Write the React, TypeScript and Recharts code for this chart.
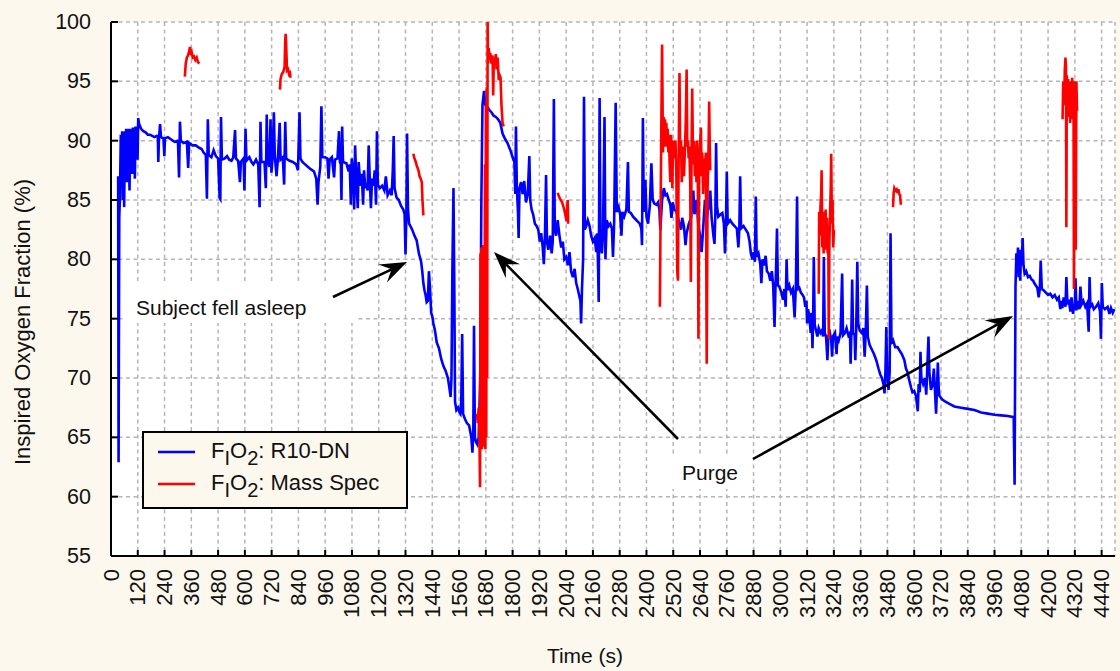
import { CartesianGrid, Line, LineChart, XAxis, YAxis } from "recharts";

// F_IO2 from the R10-DN sensor, [time (s), %]
const blueSettling: [number, number][] = [
  [32, 87.0], [34, 62.9], [37, 83.5], [40, 85.2], [44, 90.5], [47, 86.0], [50, 90.8], [53, 85.0],
  [56, 90.6], [59, 84.4], [62, 90.8], [65, 87.0], [68, 91.0], [71, 86.5], [74, 90.9], [77, 88.0],
  [80, 91.0], [83, 85.8], [86, 90.9], [89, 87.5], [92, 91.0], [95, 87.2], [98, 91.1], [101, 88.0],
  [104, 91.1], [107, 86.8], [110, 91.2], [113, 88.5], [116, 91.2], [119, 88.4], [122, 91.9], [126, 91.4],
];

const blueAwake: [number, number][] = [
  [135, 91.0], [145, 90.8], [155, 90.7], [165, 90.5], [175, 90.5], [185, 90.4], [195, 90.3], [205, 90.4],
  [210, 90.3], [212, 88.2], [215, 90.2], [220, 91.4], [224, 90.3], [235, 90.2], [239, 88.7], [242, 90.2],
  [255, 90.3], [270, 90.1], [285, 89.9], [300, 90.0], [305, 86.9], [309, 91.6], [313, 90.0], [325, 89.8],
  [340, 89.9], [346, 87.7], [350, 89.8], [365, 89.6], [380, 89.6], [395, 89.4], [406, 89.3], [415, 89.0],
  [425, 88.8], [430, 85.1], [434, 91.8], [438, 88.8], [450, 88.6], [460, 89.2], [470, 88.7], [480, 88.5],
  [487, 85.2], [490, 85.1], [493, 92.0], [497, 88.4], [510, 88.5], [520, 88.7], [530, 88.4], [540, 88.3],
  [548, 88.6], [556, 90.9], [560, 88.5], [570, 88.3], [578, 86.5], [582, 88.2], [594, 88.5], [598, 85.8],
  [603, 91.0], [607, 88.3], [620, 88.6], [630, 88.2], [638, 88.0], [650, 88.4], [660, 88.0], [666, 84.4],
  [670, 91.6], [674, 88.2], [688, 88.2], [694, 86.0], [698, 92.2], [702, 88.3], [710, 87.8], [715, 91.8],
  [719, 87.3], [724, 88.5], [730, 92.4], [734, 88.8], [742, 87.0], [748, 88.5], [756, 91.5], [760, 88.4],
  [770, 88.6], [776, 86.3], [781, 91.6], [785, 88.5], [800, 88.3], [815, 88.2], [830, 88.0], [838, 87.5],
  [845, 92.4], [849, 88.5], [858, 88.2], [870, 88.0], [882, 87.8], [895, 87.6], [910, 87.4], [920, 86.8],
  [926, 84.6], [930, 86.5], [938, 87.8], [943, 92.9], [947, 88.6], [960, 88.6], [970, 88.5], [975, 86.8],
  [980, 88.4], [990, 88.6], [1000, 86.9], [1004, 88.4], [1015, 88.5], [1022, 90.8], [1026, 88.2], [1030, 88.0],
  [1033, 85.0], [1036, 91.2], [1040, 88.2], [1055, 88.1], [1065, 87.4], [1070, 88.0], [1075, 84.6], [1079, 88.5],
  [1085, 87.2], [1090, 84.2], [1094, 89.6], [1100, 86.5], [1106, 84.3], [1110, 88.2], [1118, 86.2], [1124, 87.2],
  [1130, 84.6], [1134, 87.5], [1140, 86.0], [1146, 86.4], [1150, 85.8], [1155, 89.6], [1160, 86.6], [1165, 84.3],
  [1170, 86.8], [1176, 86.2], [1182, 87.5], [1188, 84.6], [1192, 90.8], [1196, 86.3], [1205, 86.0], [1215, 86.2],
  [1225, 85.8], [1232, 87.0], [1240, 85.4], [1250, 85.8], [1258, 85.4], [1263, 87.5], [1267, 90.4], [1271, 86.0],
  [1280, 85.2], [1290, 85.0], [1300, 84.5], [1310, 84.2], [1316, 83.8],
];

const blueAsleep: [number, number][] = [
  [1320, 80.4], [1324, 84.0], [1327, 90.6], [1331, 84.3], [1336, 83.0], [1342, 82.8], [1350, 82.5], [1360, 82.0],
  [1370, 81.6], [1380, 80.5], [1390, 79.8], [1395, 79.0], [1400, 78.0], [1405, 77.4], [1410, 77.0], [1415, 76.4],
  [1420, 76.5], [1425, 79.0], [1430, 77.5], [1435, 75.5], [1440, 75.2], [1445, 74.6], [1452, 74.0], [1460, 73.0],
  [1470, 72.5], [1480, 71.6], [1490, 71.0], [1500, 70.6], [1510, 70.0], [1518, 69.0], [1522, 68.4], [1526, 70.0],
  [1530, 79.0], [1535, 86.0], [1539, 77.0], [1542, 68.0], [1548, 67.3], [1555, 67.5], [1560, 67.2], [1566, 67.0],
  [1570, 68.2], [1574, 73.7], [1578, 67.0], [1585, 66.6], [1595, 66.2], [1605, 66.0], [1610, 65.5], [1615, 65.0],
  [1620, 63.7], [1624, 65.8], [1627, 74.4], [1631, 65.0], [1636, 64.6], [1642, 64.4], [1648, 65.0], [1655, 70.0],
  [1660, 85.0],
];

const bluePostPurge: [number, number][] = [
  [1665, 93.0], [1672, 94.2], [1678, 93.0], [1685, 92.9], [1695, 92.6], [1705, 92.4], [1715, 92.1], [1725, 92.0],
  [1735, 91.8], [1745, 91.5], [1755, 90.6], [1765, 90.2], [1777, 89.8], [1790, 89.2], [1800, 88.6], [1808, 88.2],
  [1812, 85.5], [1815, 91.2], [1819, 86.1], [1824, 84.0], [1827, 81.8], [1831, 86.0], [1838, 86.5], [1845, 85.5],
  [1852, 86.6], [1860, 84.8], [1868, 85.5], [1875, 88.7], [1879, 85.0], [1885, 84.2], [1892, 83.8], [1900, 83.0],
  [1908, 82.8], [1915, 82.5], [1922, 81.5], [1928, 82.2], [1935, 81.0], [1940, 79.6], [1945, 82.0], [1950, 87.1],
  [1954, 81.5], [1960, 80.8], [1968, 82.0], [1975, 80.5], [1980, 81.5], [1985, 93.5], [1989, 82.5], [1995, 82.0],
  [2002, 83.3], [2010, 82.0], [2018, 81.0], [2025, 81.5], [2032, 80.0], [2040, 80.2], [2048, 79.5], [2055, 80.6],
  [2062, 79.0], [2070, 78.5], [2078, 79.2], [2085, 78.0], [2092, 77.5], [2098, 77.0], [2104, 76.5], [2107, 74.6],
  [2111, 77.5], [2116, 80.0], [2120, 93.7], [2124, 82.5], [2130, 82.8], [2137, 83.3], [2145, 82.8], [2152, 82.0],
  [2160, 81.5], [2168, 81.8], [2175, 80.6], [2180, 82.2], [2186, 76.4], [2190, 93.6], [2194, 81.5], [2200, 80.5],
  [2205, 82.0], [2212, 92.0], [2216, 80.0], [2222, 83.3], [2230, 82.8], [2238, 83.0], [2245, 82.6], [2250, 80.2],
  [2255, 83.0], [2262, 93.2], [2267, 84.0], [2275, 84.4], [2282, 83.8], [2288, 82.0], [2292, 84.0], [2300, 83.6],
  [2310, 84.2], [2317, 88.2], [2321, 84.0], [2330, 83.9], [2340, 83.6], [2350, 83.4], [2360, 83.2], [2370, 83.0],
  [2377, 82.6], [2380, 81.2], [2384, 91.9], [2388, 84.0], [2395, 86.7], [2400, 83.6], [2407, 83.0], [2415, 84.5],
  [2422, 88.1], [2428, 85.0], [2435, 84.7], [2445, 84.6], [2452, 84.8],
];

const blueDecline: [number, number][] = [
  [2458, 84.2], [2462, 82.5], [2470, 85.0], [2478, 86.0], [2485, 85.4], [2492, 85.5], [2500, 85.0], [2507, 84.6],
  [2512, 83.5], [2518, 84.8], [2525, 84.2], [2535, 84.0], [2545, 83.2], [2555, 82.5], [2560, 83.5], [2568, 82.8],
  [2575, 81.2], [2580, 82.2], [2590, 83.0], [2600, 83.5], [2610, 85.8], [2615, 83.8], [2625, 85.0], [2632, 83.0],
  [2640, 82.0], [2647, 80.6], [2652, 82.0], [2662, 85.0], [2670, 83.5], [2680, 84.5], [2686, 85.8], [2692, 83.5],
  [2700, 82.0], [2705, 81.3], [2709, 84.0], [2712, 89.8], [2716, 84.5], [2722, 83.6], [2732, 83.8], [2740, 83.9],
  [2747, 83.0], [2752, 80.5], [2756, 82.8], [2760, 87.4], [2764, 83.0], [2775, 83.3], [2785, 83.0], [2795, 82.8],
  [2805, 82.6], [2812, 81.0], [2816, 82.5], [2820, 87.0], [2824, 82.6], [2835, 82.8], [2845, 82.5], [2855, 82.2],
  [2862, 81.5], [2868, 80.5], [2875, 80.0], [2880, 80.6], [2886, 79.8], [2890, 85.3], [2894, 80.2], [2902, 80.5],
  [2910, 79.6], [2915, 78.0], [2920, 80.0], [2928, 79.5], [2934, 80.3], [2940, 79.0], [2948, 78.8], [2955, 78.2],
  [2962, 79.0], [2968, 77.8], [2974, 74.3], [2978, 77.5], [2982, 80.0], [2985, 82.6], [2989, 77.8], [2995, 77.7],
  [3005, 77.2], [3012, 76.6], [3018, 77.5], [3024, 76.0], [3028, 80.0], [3032, 77.4], [3040, 77.8], [3048, 77.2],
  [3056, 77.5], [3064, 75.1], [3070, 78.0], [3075, 85.3], [3079, 77.5], [3085, 77.6], [3092, 77.2], [3100, 77.0],
  [3106, 76.8], [3112, 76.0], [3117, 76.5], [3120, 74.6], [3124, 75.8], [3130, 75.2], [3136, 73.8], [3140, 75.5],
  [3144, 72.5], [3147, 75.0], [3150, 80.2], [3154, 74.5], [3160, 74.0], [3166, 73.5], [3172, 74.2], [3180, 73.8],
  [3186, 74.0], [3192, 73.5], [3195, 80.2], [3199, 73.8], [3205, 73.5], [3211, 71.5], [3215, 73.5], [3222, 73.8],
  [3228, 73.2], [3232, 71.8], [3236, 73.5], [3245, 73.8], [3252, 72.0], [3256, 73.5], [3262, 73.2], [3270, 73.8],
  [3277, 78.8], [3281, 73.6], [3290, 73.8], [3297, 74.2], [3305, 73.6], [3312, 73.8], [3315, 71.2], [3318, 73.5],
  [3322, 78.3], [3326, 73.8], [3333, 73.6], [3336, 71.5], [3340, 74.0], [3345, 79.8], [3349, 74.6],
];

const blueDrift: [number, number][] = [
  [3356, 74.0], [3365, 73.8], [3372, 74.2], [3378, 71.8], [3383, 74.0], [3388, 77.8], [3392, 73.5], [3400, 72.8],
  [3410, 72.4], [3420, 72.0], [3430, 71.5], [3440, 70.8], [3448, 70.3], [3455, 70.0], [3462, 69.5], [3467, 68.7],
  [3471, 70.5], [3475, 74.3], [3479, 70.2], [3485, 69.0], [3490, 70.5], [3494, 82.2], [3498, 73.0], [3505, 73.2],
  [3515, 72.6], [3525, 72.6], [3535, 72.3], [3545, 72.0], [3556, 71.5], [3563, 70.8], [3570, 70.5], [3578, 69.8],
  [3586, 69.2], [3592, 68.8], [3600, 68.9], [3608, 68.5], [3616, 67.2], [3620, 69.5], [3625, 68.8], [3628, 72.2],
  [3632, 70.0], [3640, 69.5], [3648, 70.0], [3654, 68.6], [3658, 70.5], [3664, 73.5], [3668, 70.5], [3675, 69.0],
  [3683, 69.5], [3688, 70.8], [3693, 69.0], [3698, 67.0], [3702, 69.0], [3706, 71.3], [3710, 69.0], [3713, 68.5],
  [3725, 68.2], [3740, 68.0], [3760, 67.8], [3780, 67.6], [3810, 67.5], [3840, 67.4], [3870, 67.3], [3900, 67.1],
  [3930, 67.0], [3960, 66.9], [3990, 66.85], [4020, 66.8], [4046, 66.7],
];

const blueFinal: [number, number][] = [
  [4050, 61.0], [4054, 77.7], [4058, 80.5], [4062, 79.0], [4065, 81.0], [4068, 78.5], [4072, 80.8], [4075, 78.2],
  [4078, 80.2], [4082, 79.5], [4086, 81.8], [4090, 79.5], [4095, 78.8], [4102, 79.0], [4110, 78.5], [4118, 78.6],
  [4126, 78.3], [4133, 78.2], [4138, 78.0], [4145, 77.8], [4152, 77.6], [4158, 76.8], [4163, 77.5], [4167, 79.9],
  [4172, 77.5], [4180, 77.4], [4190, 77.2], [4200, 77.0], [4210, 77.1], [4220, 76.8], [4230, 77.0], [4240, 76.6],
  [4248, 76.8], [4255, 75.8], [4260, 76.5], [4264, 75.9], [4270, 76.8], [4278, 76.0], [4282, 78.5], [4287, 76.2],
  [4293, 76.6], [4300, 75.6], [4305, 76.8], [4312, 75.4], [4316, 76.0], [4320, 76.2], [4323, 78.4], [4327, 75.7],
  [4333, 76.5], [4340, 75.8], [4345, 77.7], [4350, 76.2], [4358, 76.5], [4367, 76.0], [4375, 76.3], [4382, 73.9],
  [4386, 78.5], [4390, 76.0], [4398, 76.2], [4405, 75.8], [4415, 76.0], [4425, 76.3], [4433, 75.6], [4437, 73.3],
  [4441, 78.0], [4445, 76.0], [4455, 75.8], [4467, 76.0], [4475, 75.4], [4482, 75.9], [4490, 75.5], [4497, 75.8],
];

// F_IO2 from the mass spectrometer, only sampled in bursts
const redSeg1: [number, number][] = [
  [331, 95.4], [335, 96.5], [340, 97.0], [345, 97.2], [350, 97.5], [354, 97.9], [358, 97.2], [362, 97.4],
  [366, 97.0], [372, 97.1], [378, 96.8], [384, 97.0], [390, 96.6], [396, 96.5],
];
const redSeg2: [number, number][] = [
  [757, 94.3], [760, 95.2], [765, 95.6], [772, 95.8], [778, 96.2], [781, 98.5], [783, 99.0], [786, 97.5],
  [789, 95.9], [794, 96.0], [798, 95.6], [802, 95.7], [805, 95.3],
];
const redSeg3: [number, number][] = [
  [1355, 88.9], [1360, 88.5], [1366, 88.2], [1372, 87.8], [1378, 87.5], [1383, 87.0], [1388, 86.8], [1393, 86.5],
  [1396, 85.0], [1400, 83.7],
];
const redSeg4: [number, number][] = [
  [1640, 67.0], [1644, 66.2], [1648, 67.5], [1651, 65.5], [1654, 60.8], [1656, 80.5], [1658, 64.5], [1660, 81.0],
  [1662, 64.0], [1664, 81.0], [1666, 64.5], [1668, 81.2], [1670, 64.2], [1672, 81.0], [1674, 64.5], [1676, 88.0],
  [1678, 64.0], [1680, 93.0], [1682, 65.0], [1684, 94.5], [1686, 70.0], [1688, 100.0], [1690, 96.5], [1693, 97.8],
  [1697, 96.8], [1700, 97.4], [1705, 96.5], [1710, 97.2], [1713, 93.8], [1716, 97.0], [1720, 96.5], [1725, 97.3],
  [1728, 96.0], [1733, 97.0], [1738, 95.1], [1742, 95.5], [1746, 95.3], [1750, 93.0], [1755, 91.5], [1760, 91.2],
];
const redSeg5: [number, number][] = [
  [2002, 85.6], [2008, 85.3], [2015, 85.0], [2022, 84.8], [2030, 84.3], [2036, 83.8], [2042, 83.2], [2045, 84.5],
  [2047, 85.0], [2049, 83.0],
];
const redSeg6: [number, number][] = [
  [2460, 76.0], [2466, 90.0], [2470, 98.1], [2474, 89.0], [2477, 92.0], [2480, 90.5], [2483, 91.8], [2486, 89.5],
  [2489, 91.5], [2492, 90.0], [2495, 91.0], [2498, 89.0], [2501, 90.5], [2504, 88.0], [2507, 86.5], [2510, 90.5],
  [2513, 89.5], [2516, 86.0], [2519, 90.0], [2522, 89.5], [2526, 88.5], [2530, 90.0], [2534, 87.0], [2538, 79.0],
  [2541, 78.2], [2544, 88.0], [2548, 95.7], [2551, 89.0], [2555, 90.0], [2558, 86.5], [2561, 88.0], [2565, 89.5],
  [2568, 87.0], [2572, 89.0], [2576, 91.5], [2580, 96.0], [2583, 89.5], [2586, 90.0], [2589, 88.5], [2592, 89.5],
  [2596, 86.5], [2599, 78.1], [2602, 89.0], [2605, 94.4], [2608, 89.5], [2611, 88.0], [2614, 90.0], [2617, 87.0],
  [2620, 89.5], [2624, 86.5], [2627, 90.0], [2630, 88.0], [2633, 73.3], [2636, 87.5], [2640, 89.5], [2644, 91.1],
  [2647, 87.0], [2650, 89.0], [2654, 85.5], [2658, 88.5], [2662, 87.5], [2666, 89.0], [2670, 71.2], [2674, 86.0],
  [2678, 89.0], [2681, 93.3], [2684, 89.0], [2686, 87.5],
];
const redSeg7: [number, number][] = [
  [3172, 77.1], [3174, 84.0], [3177, 82.0], [3180, 84.5], [3183, 85.5], [3185, 87.5], [3188, 81.0], [3191, 84.0],
  [3194, 80.5], [3197, 83.8], [3200, 81.0], [3203, 84.2], [3206, 80.8], [3209, 83.5], [3212, 80.5], [3215, 82.0],
  [3217, 73.3], [3220, 81.5], [3223, 84.0], [3226, 86.0], [3228, 88.9], [3231, 83.0], [3234, 85.0], [3237, 81.0],
  [3240, 82.5],
];
const redSeg8: [number, number][] = [
  [3505, 84.4], [3508, 85.6], [3511, 86.0], [3516, 85.8], [3521, 85.9], [3525, 85.6], [3529, 85.9], [3533, 85.5],
  [3537, 85.4], [3540, 84.6],
];
const redSeg9: [number, number][] = [
  [4265, 91.8], [4268, 95.0], [4272, 93.0], [4275, 96.0], [4278, 97.0], [4280, 96.2], [4282, 82.7], [4284, 95.5],
  [4287, 93.5], [4290, 95.2], [4293, 92.0], [4296, 95.0], [4299, 91.5], [4302, 95.0], [4305, 93.0], [4308, 95.3],
  [4311, 91.8], [4314, 95.0], [4316, 77.5], [4318, 93.0], [4321, 95.0], [4324, 80.8], [4327, 95.0], [4330, 92.5],
];

const xTicks = Array.from({ length: 38 }, (_, i) => i * 120);
const yTicks = [55, 60, 65, 70, 75, 80, 85, 90, 95, 100];

const FONT = '"Liberation Sans", Arial, Helvetica, sans-serif';
const BLUE = "#0000ff";
const RED = "#ff0000";

const toPoints = (pairs: [number, number][]) => pairs.map(([t, v]) => ({ t, v }));

const bluePoints = toPoints([
  ...blueSettling,
  ...blueAwake,
  ...blueAsleep,
  ...bluePostPurge,
  ...blueDecline,
  ...blueDrift,
  ...blueFinal,
]);
const redSegments = [redSeg1, redSeg2, redSeg3, redSeg4, redSeg5, redSeg6, redSeg7, redSeg8, redSeg9].map(toPoints);

const BottomTick = ({ x, y, payload }: any) => (
  <g>
    <line x1={x} y1={y} x2={x} y2={y - 6} stroke="#000" strokeWidth={2} />
    <text
      x={x}
      y={y + 13}
      transform={`rotate(-90 ${x} ${y + 13})`}
      textAnchor="end"
      dominantBaseline="central"
      fontFamily={FONT}
      fontSize={22}
      fill="#111"
    >
      {payload.value}
    </text>
  </g>
);

const TopTick = ({ x, y }: any) => <line x1={x} y1={y} x2={x} y2={y + 6} stroke="#000" strokeWidth={2} />;

const LeftTick = ({ x, y, payload }: any) => (
  <g>
    <line x1={x} y1={y} x2={x + 7} y2={y} stroke="#000" strokeWidth={2} />
    <text x={x - 20} y={y} textAnchor="end" dominantBaseline="central" fontFamily={FONT} fontSize={21.5} fill="#111">
      {payload.value}
    </text>
  </g>
);

const RightTick = ({ x, y }: any) => <line x1={x} y1={y} x2={x - 7} y2={y} stroke="#000" strokeWidth={2} />;

function Arrow({ x1, y1, x2, y2 }: { x1: number; y1: number; x2: number; y2: number }) {
  const len = Math.hypot(x2 - x1, y2 - y1);
  const ux = (x2 - x1) / len;
  const uy = (y2 - y1) / len;
  const L = 27;
  const W = 10;
  const N = 17;
  const bx = x2 - ux * L;
  const by = y2 - uy * L;
  const pts = [
    [x2, y2],
    [bx - uy * W, by + ux * W],
    [x2 - ux * N, y2 - uy * N],
    [bx + uy * W, by - ux * W],
  ]
    .map((p) => p.join(","))
    .join(" ");
  return (
    <g>
      <line x1={x1} y1={y1} x2={x2 - ux * N} y2={y2 - uy * N} stroke="#000" strokeWidth={2.5} />
      <polygon points={pts} fill="#000" />
    </g>
  );
}

function LegendLabel({ x, y, name }: { x: number; y: number; name: string }) {
  return (
    <text x={x} y={y} fontFamily={FONT} fontSize={22} fill="#111">
      F
      <tspan dy={7} fontSize={20}>I</tspan>
      <tspan dy={-7}>O</tspan>
      <tspan dy={7} fontSize={20}>2</tspan>
      <tspan dy={-7}>{`: ${name}`}</tspan>
    </text>
  );
}

export default function App() {
  return (
    <div style={{ position: "relative", width: 1120, height: 671, background: "#fcf8ee" }}>
      <style>{"body{margin:0}"}</style>
      <LineChart width={1120} height={671} margin={{ top: 22, right: 5, bottom: 0, left: 0 }}>
        <CartesianGrid stroke="#b5b5b5" strokeWidth={1.5} strokeDasharray="4 3.5" fill="#ffffff" fillOpacity={1} />
        <XAxis
          dataKey="t"
          type="number"
          domain={[0, 4500]}
          ticks={xTicks}
          interval={0}
          allowDataOverflow
          height={115}
          tickSize={0}
          tickMargin={0}
          axisLine={{ stroke: "#000", strokeWidth: 2 }}
          tick={(p: any) => <BottomTick {...p} />}
        />
        <XAxis
          xAxisId="top"
          orientation="top"
          type="number"
          domain={[0, 4500]}
          ticks={xTicks}
          interval={0}
          allowDataOverflow
          height={0}
          tickSize={0}
          tickMargin={0}
          axisLine={{ stroke: "#000", strokeWidth: 2 }}
          tick={(p: any) => <TopTick {...p} />}
        />
        <YAxis
          type="number"
          domain={[55, 100]}
          ticks={yTicks}
          interval={0}
          allowDataOverflow
          width={111}
          tickSize={0}
          tickMargin={0}
          axisLine={{ stroke: "#000", strokeWidth: 2 }}
          tick={(p: any) => <LeftTick {...p} />}
        />
        <YAxis
          yAxisId="right"
          orientation="right"
          type="number"
          domain={[55, 100]}
          ticks={yTicks}
          interval={0}
          allowDataOverflow
          width={0}
          tickSize={0}
          tickMargin={0}
          axisLine={{ stroke: "#000", strokeWidth: 2 }}
          tick={(p: any) => <RightTick {...p} />}
        />
        <Line
          data={bluePoints}
          dataKey="v"
          type="linear"
          stroke={BLUE}
          strokeWidth={2.6}
          dot={false}
          activeDot={false}
          isAnimationActive={false}
        />
        {redSegments.map((seg, i) => (
          <Line
            key={i}
            data={seg}
            dataKey="v"
            type="linear"
            stroke={RED}
            strokeWidth={2.6}
            dot={false}
            activeDot={false}
            isAnimationActive={false}
          />
        ))}
      </LineChart>

      <svg
        width={1120}
        height={671}
        style={{ position: "absolute", left: 0, top: 0, pointerEvents: "none" }}
      >
        {/* annotations */}
        <rect x={125} y={284} width={230} height={39} fill="#ffffff" />
        <text x={136} y={307} dominantBaseline="central" fontFamily={FONT} fontSize={21} fill="#111">
          Subject fell asleep
        </text>
        <Arrow x1={333} y1={297} x2={407} y2={262} />

        <rect x={672} y={455} width={80} height={34} fill="#ffffff" />
        <text x={682} y={472} dominantBaseline="central" fontFamily={FONT} fontSize={21} fill="#111">
          Purge
        </text>
        <Arrow x1={678} y1={439} x2={494} y2={252} />
        <Arrow x1={753} y1={459} x2={1013} y2={316} />

        {/* legend */}
        <rect x={143} y={432} width={264} height={76} fill="#fcf8ee" stroke="#000" strokeWidth={2} />
        <line x1={158} y1={452} x2={195} y2={452} stroke={BLUE} strokeWidth={2.5} />
        <line x1={158} y1={484} x2={195} y2={484} stroke={RED} strokeWidth={2.5} />
        <LegendLabel x={211} y={458} name="R10-DN" />
        <LegendLabel x={211} y={490} name="Mass Spec" />

        {/* axis titles */}
        <text x={585} y={655} textAnchor="middle" dominantBaseline="central" fontFamily={FONT} fontSize={21} fill="#111">
          Time (s)
        </text>
        <text
          x={22}
          y={322}
          transform="rotate(-90 22 322)"
          textAnchor="middle"
          dominantBaseline="central"
          fontFamily={FONT}
          fontSize={22}
          fill="#111"
        >
          Inspired Oxygen Fraction (%)
        </text>
      </svg>
    </div>
  );
}
